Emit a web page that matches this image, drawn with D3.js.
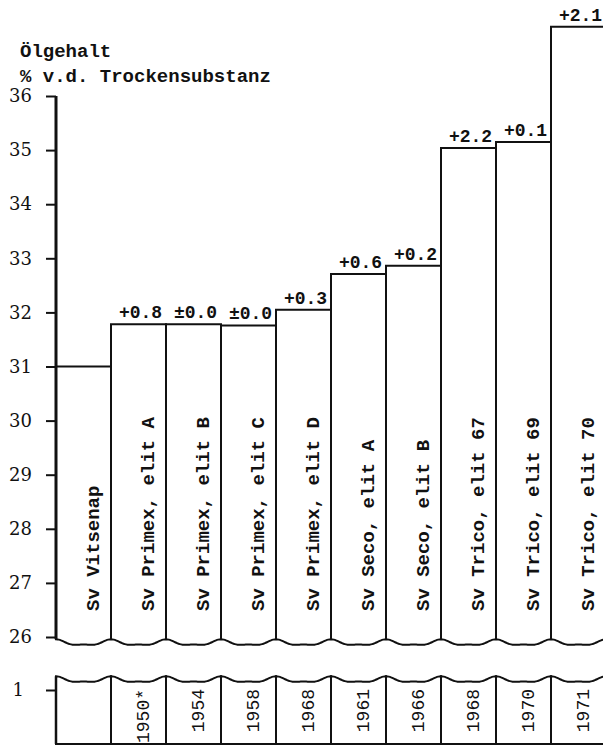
<!DOCTYPE html>
<html lang="de">
<head>
  <meta charset="UTF-8">
  <title>Ölgehalt</title>
  <script src="https://d3js.org/d3.v7.min.js"></script>
  <style>
    body { margin: 0; background: #fff; }
    svg { display: block; }
    .mono { font-family: "Liberation Mono", "DejaVu Sans Mono", monospace; font-weight: bold; fill: #111; }
    .axis text { font-family: "DejaVu Serif", serif; font-size: 18px; fill: #111; }
    .axis line { stroke: #111; stroke-width: 2; }
    .axis path { display: none; }
    .bar { fill: #fff; stroke: #111; stroke-width: 2; }
  </style>
</head>
<body>
  <script>
    // values
    const varieties = ["Sv Vitsenap", "Sv Primex, elit A", "Sv Primex, elit B", "Sv Primex, elit C",
      "Sv Primex, elit D", "Sv Seco, elit A", "Sv Seco, elit B", "Sv Trico, elit 67",
      "Sv Trico, elit 69", "Sv Trico, elit 70"];
    const years = ["", "1950*", "1954", "1958", "1968", "1961", "1966", "1968", "1970", "1971"];
    const oilContent = [31.0, 31.78, 31.78, 31.76, 32.05, 32.71, 32.86, 35.04, 35.15, 37.28];
    const changes = ["", "+0.8", "±0.0", "±0.0", "+0.3", "+0.6", "+0.2", "+2.2", "+0.1", "+2.1"];
    const yTicks = [26, 27, 28, 29, 30, 31, 32, 33, 34, 35, 36];
    const lowTicks = [1];

    const width = 603, height = 747;
    const left = 56;

    const svg = d3.select("body").append("svg")
      .attr("width", width)
      .attr("height", height);

    const x = d3.scaleBand().domain(varieties).range([left, left + 550]).padding(0);
    const y = d3.scaleLinear().domain([26, 36]).range([637, 96]);
    const yLow = d3.scaleLinear().domain([0, 1]).range([744, 690]);

    const upperBreak = 643, lowerBreak = 680;

    // wavy break line across one band
    function wave(x0, x1, yb) {
      const pts = [];
      for (let i = 0; i <= 20; i++) {
        const t = i / 20;
        pts.push([x0 + t * (x1 - x0), yb - 2.6 * Math.cos(2 * Math.PI * t) - 1.1 * Math.cos(4 * Math.PI * t)]);
      }
      return pts;
    }
    const line = d3.line().curve(d3.curveCatmullRom);

    const data = varieties.map((v, i) => ({ name: v, year: years[i], value: oilContent[i], change: changes[i] }));

    // upper bars
    svg.selectAll(".bar-up")
      .data(data)
      .enter().append("path")
        .attr("class", "bar")
        .attr("d", d => {
          const x0 = x(d.name), x1 = x0 + x.bandwidth();
          const w = wave(x0, x1, upperBreak);
          const top = y(d.value);
          return "M" + x0 + "," + w[0][1] + "L" + x0 + "," + top + "L" + x1 + "," + top +
            "L" + x1 + "," + w[w.length - 1][1] + line(w.reverse()).replace("M", "L") + "Z";
        });

    // lower strip boxes
    svg.selectAll(".bar-low")
      .data(data)
      .enter().append("path")
        .attr("class", "bar")
        .attr("d", d => {
          const x0 = x(d.name), x1 = x0 + x.bandwidth();
          const w = wave(x0, x1, lowerBreak);
          return line(w) + "L" + x1 + "," + yLow(0) + "L" + x0 + "," + yLow(0) + "Z";
        });

    // change labels above the bars
    svg.selectAll(".chg")
      .data(data.filter(d => d.change))
      .enter().append("text")
        .attr("class", "mono")
        .attr("x", d => x(d.name) + x.bandwidth() / 2 + 2)
        .attr("y", d => y(d.value) - 6)
        .attr("text-anchor", "middle")
        .style("font-size", "18px")
        .text(d => d.change);

    // variety names
    svg.selectAll(".name")
      .data(data)
      .enter().append("text")
        .attr("class", "mono")
        .attr("transform", d => "translate(" + (x(d.name) + x.bandwidth() / 2 + 15) + ",611) rotate(-90)")
        .style("font-size", "19px")
        .text(d => d.name);

    // years
    svg.selectAll(".year")
      .data(data.filter(d => d.year))
      .enter().append("text")
        .attr("class", "mono")
        .attr("transform", d => "translate(" + (x(d.name) + x.bandwidth() / 2 + 10) + ",689) rotate(-90)")
        .attr("text-anchor", "end")
        .style("font-size", "18px")
        .style("font-weight", "normal")
        .text(d => d.year);

    // axes
    svg.append("g")
      .attr("class", "axis")
      .attr("transform", "translate(" + left + ",0)")
      .call(d3.axisLeft(y).tickValues(yTicks).tickSize(10).tickPadding(14).tickFormat(d3.format("d")));

    svg.append("g")
      .attr("class", "axis")
      .attr("transform", "translate(" + left + ",0)")
      .call(d3.axisLeft(yLow).tickValues(lowTicks).tickSize(10).tickPadding(22).tickFormat(d3.format("d")));

    svg.append("line")
      .attr("x1", left).attr("x2", left)
      .attr("y1", y(36)).attr("y2", wave(left, left + 1, upperBreak)[0][1])
      .attr("stroke", "#111").attr("stroke-width", 3);

    svg.append("line")
      .attr("x1", left).attr("x2", left)
      .attr("y1", wave(left, left + 1, lowerBreak)[0][1]).attr("y2", yLow(0))
      .attr("stroke", "#111").attr("stroke-width", 2.5);

    // title
    svg.append("text").attr("class", "mono").attr("x", 20).attr("y", 57)
      .style("font-size", "19px").text("Ölgehalt");
    svg.append("text").attr("class", "mono").attr("x", 20).attr("y", 82)
      .style("font-size", "19px").text("% v.d. Trockensubstanz");
  </script>
</body>
</html>
